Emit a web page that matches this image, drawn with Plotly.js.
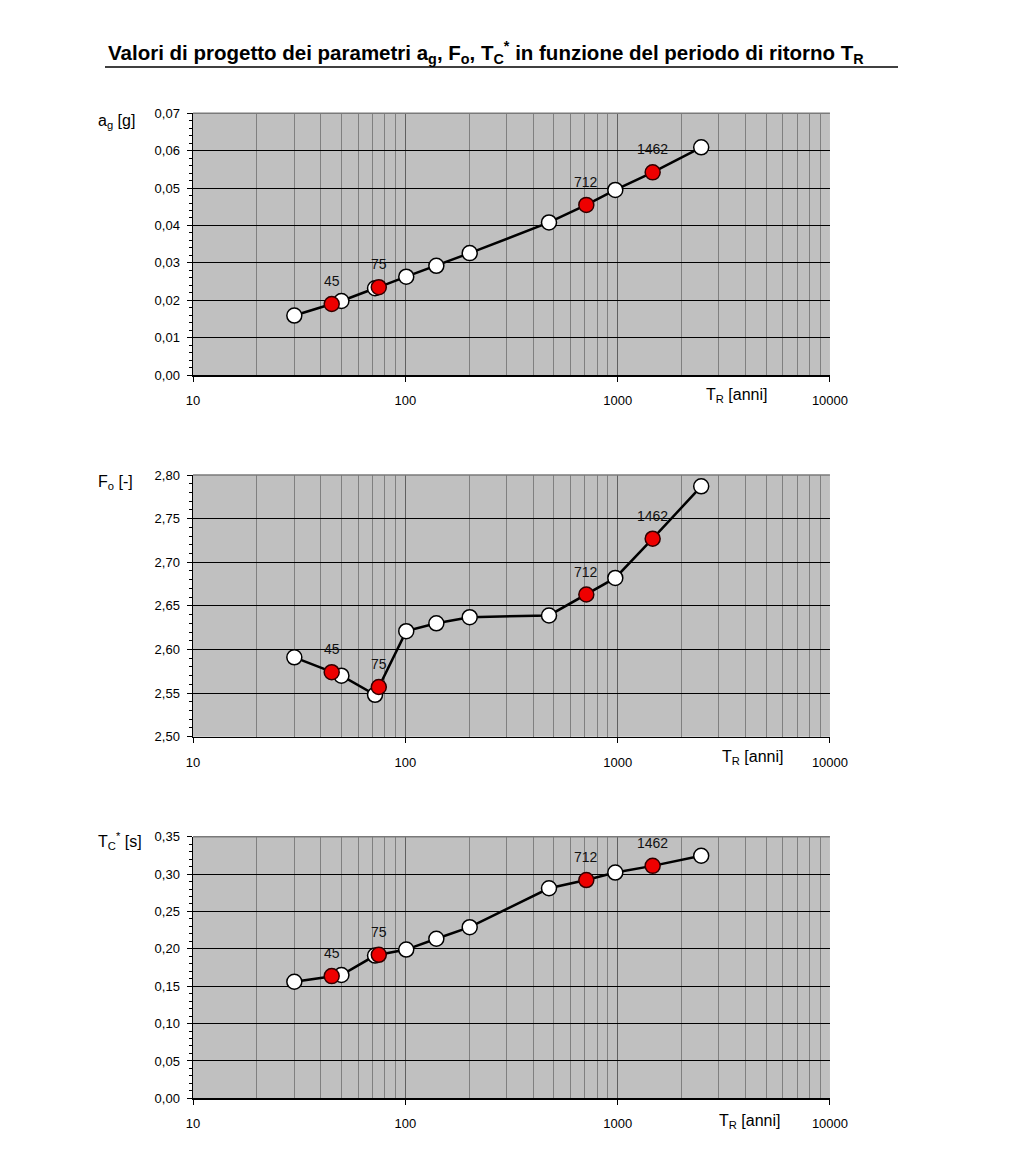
<!DOCTYPE html>
<html>
<head>
<meta charset="utf-8">
<script src="https://cdn.plot.ly/plotly-3.0.1.min.js"></script>
<style>
  body { margin: 0; background: #fff; }
  #chart { width: 1024px; height: 1156px; }
</style>
</head>
<body>
<div id="chart"></div>
<script>
// Return periods (anni) and parameter values
const trAll = [30, 45, 50, 72, 75, 101, 140, 201, 475, 712, 975, 1462, 2475];
const agAll = [0.0159, 0.0190, 0.0198, 0.0232, 0.0235, 0.0263, 0.0292, 0.0326, 0.0408, 0.0455, 0.0495, 0.0542, 0.0609];
const foAll = [2.591, 2.574, 2.570, 2.548, 2.557, 2.621, 2.630, 2.637, 2.639, 2.663, 2.682, 2.727, 2.787];
const tcAll = [0.156, 0.1635, 0.165, 0.191, 0.192, 0.199, 0.2135, 0.229, 0.281, 0.292, 0.302, 0.311, 0.3245];
// design return periods (red points)
const trRed = [45, 75, 712, 1462];

const decades = [10, 100, 1000, 10000];
const decadeLabels = ['10', '100', '1000', '10000'];

const FONT = 'Liberation Sans, Arial, sans-serif';

// minor log gridlines 20..90, 200..900, 2000..9000
let minorVals = [];
decades.slice(0, 3).forEach(d => {
    for (let k = 2; k <= 9; k++) minorVals.push(k * d);
});

function splitSeries(vals) {
    let white = { x: [], y: [] }, red = { x: [], y: [] };
    trAll.forEach((t, i) => {
        let target = trRed.includes(t) ? red : white;
        target.x.push(t);
        target.y.push(vals[i]);
    });
    return { white, red };
}

const panels = [
    { vals: agAll, range: [0, 0.07], dtick: 0.01, minor: 0.002, dom: [0.6756, 0.902] },
    { vals: foAll, range: [2.5, 2.8], dtick: 0.05, minor: 0.01, dom: [0.3627, 0.5891] },
    { vals: tcAll, range: [0, 0.35], dtick: 0.05, minor: 0.01, dom: [0.0499, 0.2762] }
];

let traces = [];
let layout = {
    width: 1024,
    height: 1156,
    margin: { l: 0, r: 0, t: 0, b: 0 },
    paper_bgcolor: '#ffffff',
    plot_bgcolor: '#c0c0c0',
    separators: ',.',
    showlegend: false,
    font: { family: FONT, size: 13, color: '#000' },
    annotations: [],
    shapes: []
};

panels.forEach((p, idx) => {
    const n = idx === 0 ? '' : String(idx + 1);
    const xa = 'x' + n, ya = 'y' + n;
    const s = splitSeries(p.vals);

    traces.push({
        x: trAll, y: p.vals, xaxis: xa, yaxis: ya,
        mode: 'lines', line: { color: '#000', width: 2.5 }, hoverinfo: 'skip'
    });
    traces.push({
        x: s.white.x, y: s.white.y, xaxis: xa, yaxis: ya, mode: 'markers',
        marker: { size: 15, color: '#ffffff', line: { color: '#000', width: 1.5 } }
    });
    traces.push({
        x: s.red.x, y: s.red.y, xaxis: xa, yaxis: ya, mode: 'markers',
        marker: { size: 15, color: '#ee0000', line: { color: '#300000', width: 1.5 } }
    });

    layout['xaxis' + n] = {
        type: 'log', range: [1, 4], domain: [0.1885, 0.8105], anchor: ya,
        tickmode: 'array', tickvals: decades, ticktext: decadeLabels,
        showgrid: true, gridcolor: '#606060', gridwidth: 1.3,
        minor: { tickmode: 'array', tickvals: minorVals, showgrid: true, gridcolor: '#808080', gridwidth: 1, ticks: '' },
        showline: true, linecolor: '#000', linewidth: 1.5,
        ticks: 'outside', ticklen: 5, tickcolor: '#000',
        ticklabelstandoff: 8,
        tickfont: { family: FONT, size: 13, color: '#000' },
        zeroline: false, fixedrange: true
    };
    layout['yaxis' + n] = {
        range: p.range, domain: p.dom, anchor: xa,
        dtick: p.dtick, tick0: p.range[0], tickformat: '.2f',
        showgrid: true, gridcolor: '#000', gridwidth: 1,
        showline: true, linecolor: '#000', linewidth: 1.5,
        ticks: 'outside', ticklen: 5, tickcolor: '#000',
        ticklabelstandoff: 4,
        minor: { dtick: p.minor, ticks: 'outside', ticklen: 3, tickcolor: '#000', showgrid: false },
        tickfont: { family: FONT, size: 13, color: '#000' },
        zeroline: false, fixedrange: true
    };

    // gray frame on the top edge of the plot area
    layout.shapes.push({
        type: 'line', xref: xa + ' domain', yref: ya + ' domain',
        x0: 0, x1: 1, y0: 1, y1: 1, layer: 'above',
        line: { color: '#7a7a7a', width: 1.5 }
    });

    // labels above red points
    s.red.x.forEach((t, i) => {
        layout.annotations.push({
            xref: xa, yref: ya, x: Math.log10(t), y: s.red.y[i],
            text: String(t), showarrow: false, yshift: 23,
            font: { family: FONT, size: 14, color: '#111' }
        });
    });
});

// axis titles
const yTitles = [
    { text: 'a<sub>g</sub> [g]', y: 122 },
    { text: 'F<sub>o</sub> [-]', y: 482 },
    { text: 'T<sub>C</sub><sup>*</sup> [s]', y: 841 }
];
yTitles.forEach(t => {
    layout.annotations.push({
        xref: 'paper', yref: 'paper', x: 96 / 1024, y: 1 - t.y / 1156,
        xanchor: 'left', yanchor: 'middle', text: t.text, showarrow: false,
        font: { family: FONT, size: 16, color: '#000' }
    });
});
const xTitles = [{ x: 736, y: 396 }, { x: 752, y: 757 }, { x: 749, y: 1121 }];
xTitles.forEach(t => {
    layout.annotations.push({
        xref: 'paper', yref: 'paper', x: t.x / 1024, y: 1 - t.y / 1156,
        xanchor: 'center', yanchor: 'middle', text: 'T<sub>R</sub> [anni]', showarrow: false,
        font: { family: FONT, size: 16, color: '#000' }
    });
});

// main title + underline
layout.annotations.push({
    xref: 'paper', yref: 'paper', x: 106 / 1024, y: 1 - 53 / 1156,
    xanchor: 'left', yanchor: 'middle', showarrow: false,
    text: '<b>Valori di progetto dei parametri a<sub>g</sub>, F<sub>o</sub>, T<sub>C</sub><sup>*</sup> in funzione del periodo di ritorno T<sub>R</sub></b>',
    font: { family: FONT, size: 20.5, color: '#000' }
});
layout.shapes.push({
    type: 'line', xref: 'paper', yref: 'paper',
    x0: 105 / 1024, x1: 898 / 1024, y0: 1 - 67 / 1156, y1: 1 - 67 / 1156,
    line: { color: '#000', width: 1.5 }
});

Plotly.newPlot(document.querySelector('#chart'), traces, layout, { displayModeBar: false, staticPlot: true });
</script>
</body>
</html>
